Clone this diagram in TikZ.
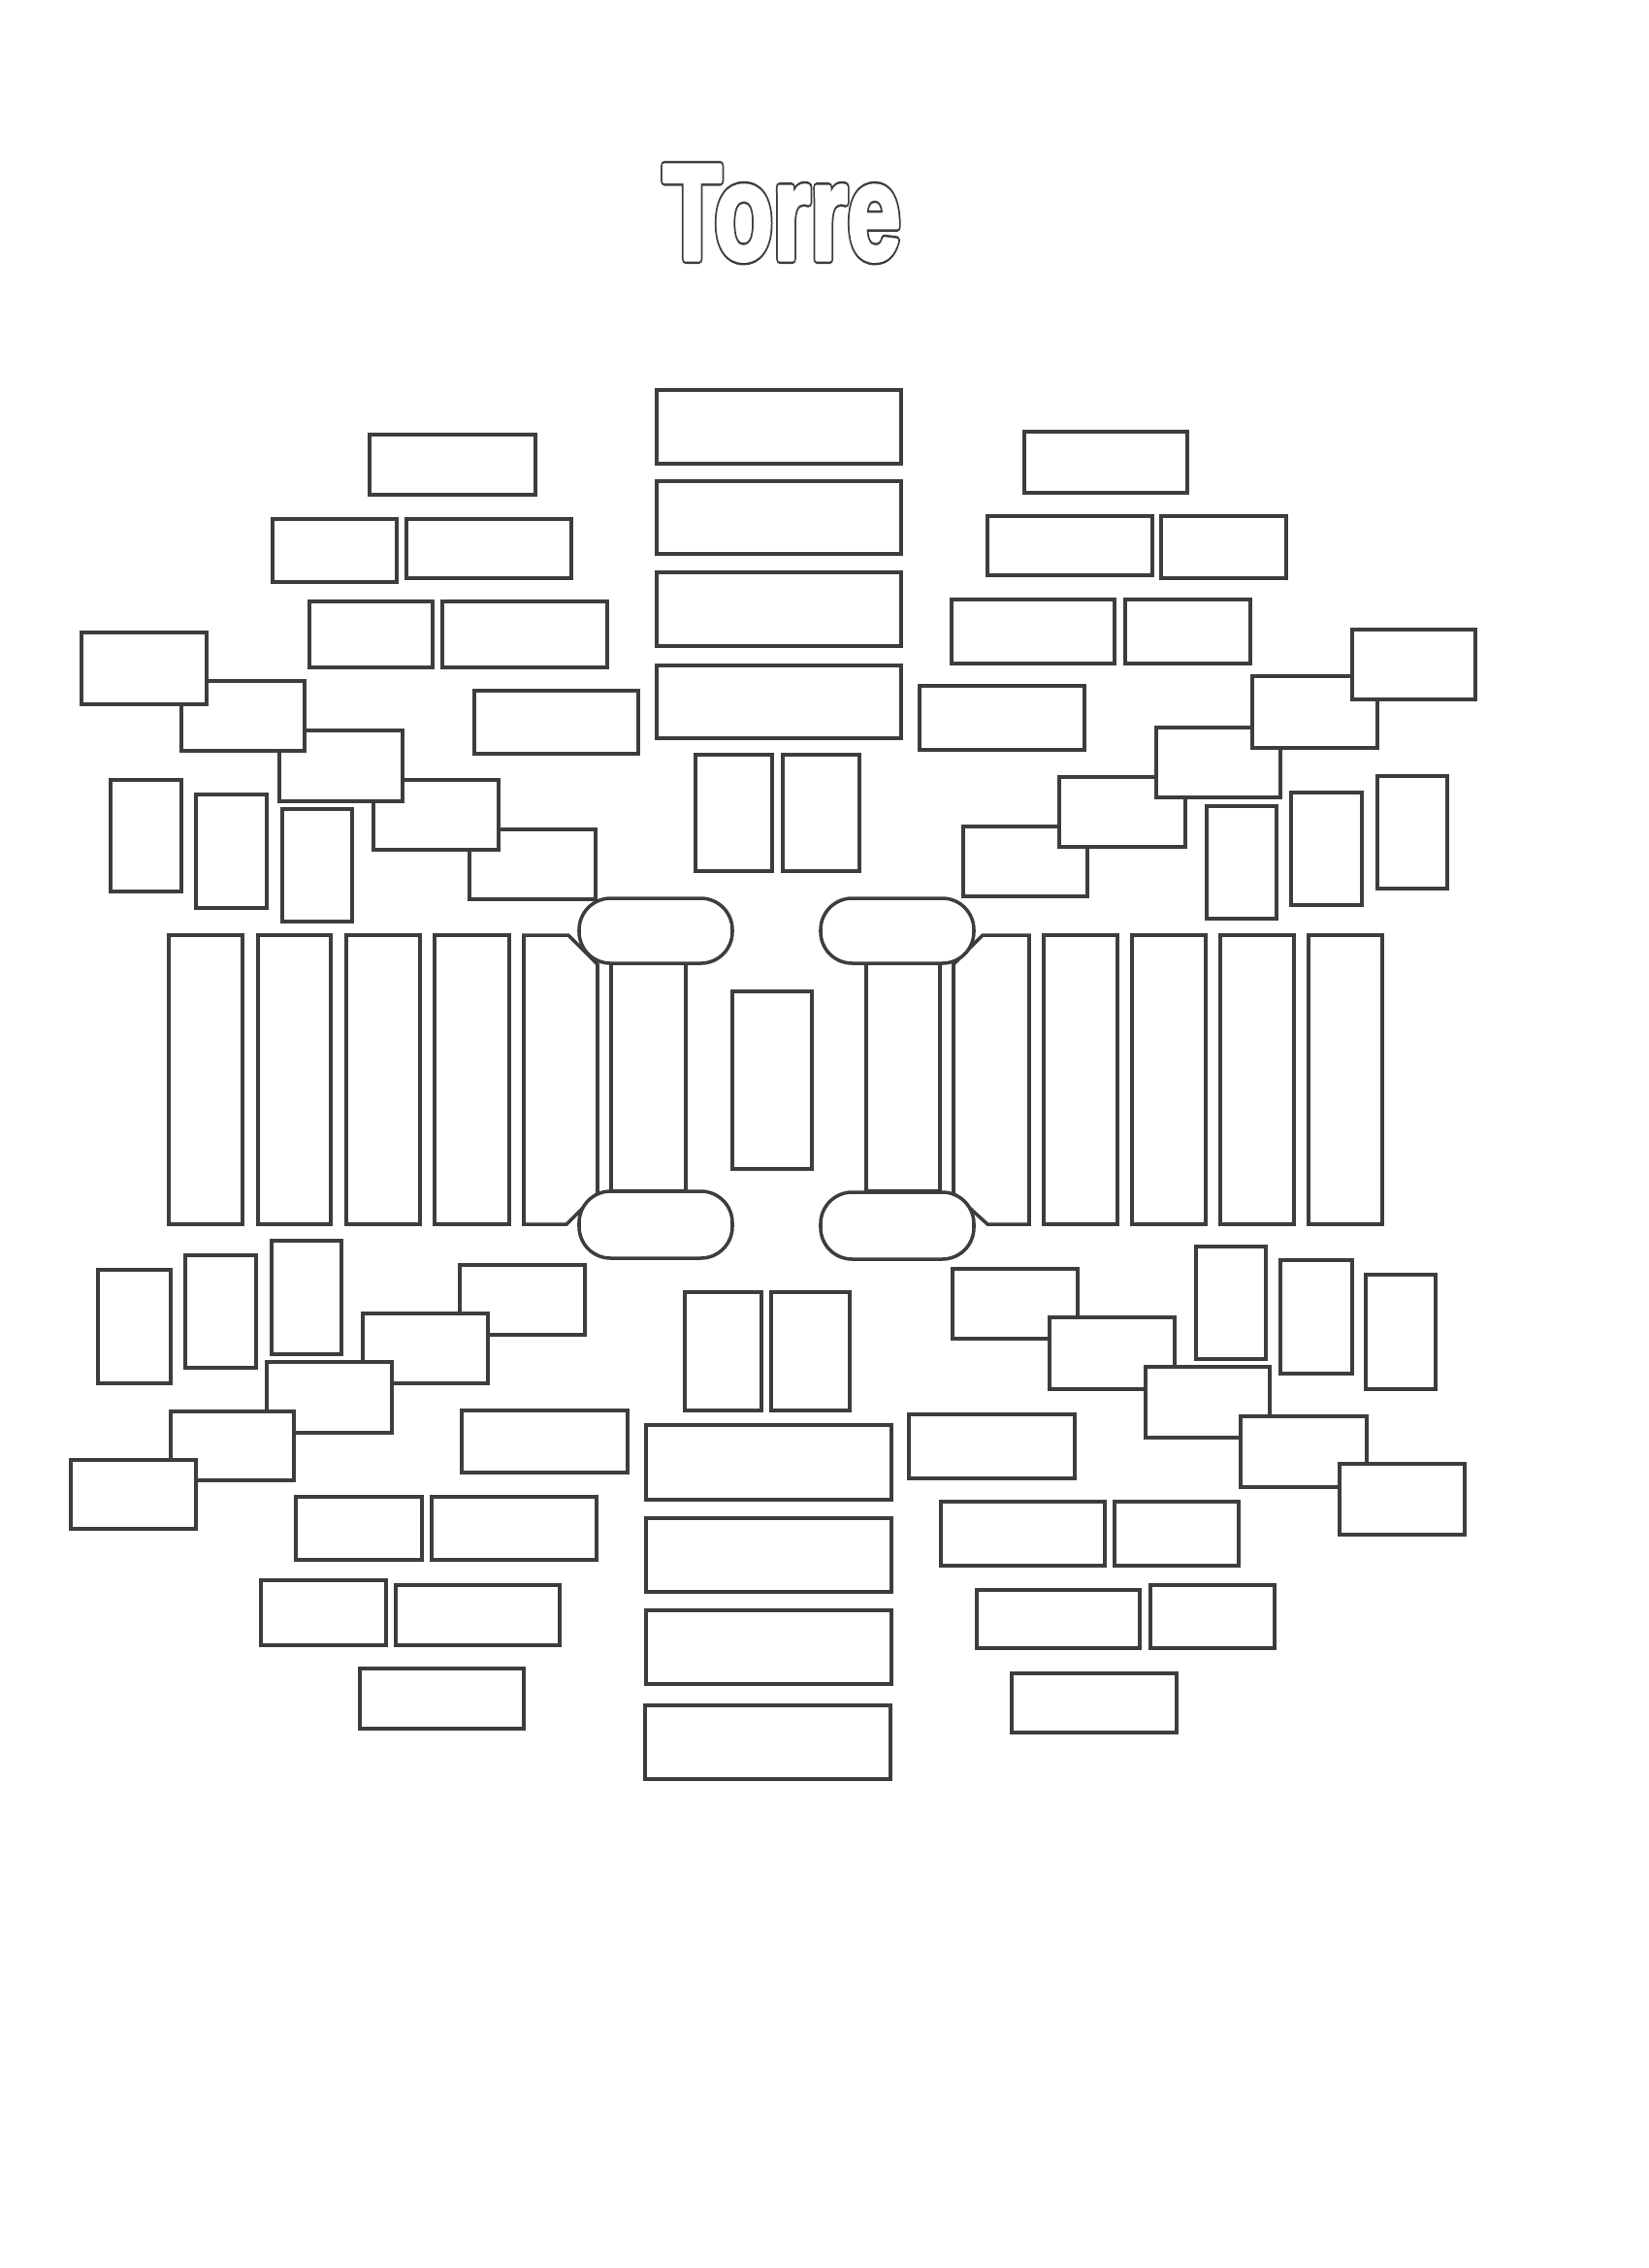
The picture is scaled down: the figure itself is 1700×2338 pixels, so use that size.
\documentclass[tikz,border=0pt]{standalone}
\usepackage{fontspec}
\usepackage{graphicx}
\newfontfamily\titlefont{Liberation Sans}
\tikzset{
  tile/.style={draw=black!76, line width=1pt, fill=white, rectangle, inner sep=0pt, outer sep=0pt},
  oval/.style={draw=black!76, line width=1pt, fill=white, rectangle, rounded corners=0.325cm, inner sep=0pt, outer sep=0pt},
  edge/.style={draw=black!76, line width=1pt, fill=white, line join=miter},
  titletext/.style={anchor=base, inner sep=0pt}
}
\newcommand\tile[6][tile]{\node[#1,minimum width={(#5-#3)*0.01cm},minimum height={(#6-#4)*0.01cm}] (#2) at ({(#3+#5)/2},{(#4+#6)/2}) {};}
\newcommand\titleword[1]{\scalebox{0.707}[1]{\titlefont\bfseries\fontsize{39.7pt}{40pt}\selectfont\special{pdf:literal direct 2 Tr #1 w 1 j}Torre\special{pdf:literal direct 0 Tr}}}
\begin{document}
\begin{tikzpicture}[x=0.01cm,y=-0.01cm]
\fill[white] (0,0) rectangle (1700,2338);
\useasboundingbox (0,0) rectangle (1700,2338);

% title: emboldened outline letters
\node[titletext, text=black!76] (title) at (806,267) {\titleword{2.85}};
\node[titletext, text=white] (titlein) at (806,267) {\titleword{1.45}};

% ---- top left
\tile{tl1}{381}{448}{552}{510}
\tile{tl2}{281}{535}{409}{600}
\tile{tl3}{419}{535}{589}{596}
\tile{tl4}{319}{620}{446}{688}
\tile{tl5}{456}{620}{626}{688}
\tile{tl6}{489}{712}{658}{777}
\tile{tlE}{484}{855}{614}{927}
\tile{tlD}{385}{804}{514}{876}
\tile{tlC}{288}{753}{415}{826}
\tile{tlB}{187}{702}{314}{774}
\tile{tlA}{84}{652}{213}{726}
\tile{tlv1}{114}{804}{187}{919}
\tile{tlv2}{202}{819}{275}{936}
\tile{tlv3}{291}{834}{363}{950}

% ---- top centre
\tile{tc1}{677}{402}{929}{478}
\tile{tc2}{677}{496}{929}{571}
\tile{tc3}{677}{590}{929}{666}
\tile{tc4}{677}{686}{929}{761}
\tile{tcv1}{717}{778}{796}{898}
\tile{tcv2}{807}{778}{886}{898}

% ---- top right
\tile{tr1}{1056}{445}{1224}{508}
\tile{tr2}{1018}{532}{1188}{593}
\tile{tr3}{1197}{532}{1326}{596}
\tile{tr4}{981}{618}{1149}{684}
\tile{tr5}{1160}{618}{1289}{684}
\tile{tr6}{948}{707}{1118}{773}
\tile{trE}{993}{852}{1121}{924}
\tile{trD}{1092}{801}{1222}{873}
\tile{trC}{1192}{750}{1320}{822}
\tile{trB}{1291}{697}{1420}{771}
\tile{trA}{1394}{649}{1521}{721}
\tile{trv1}{1244}{831}{1316}{947}
\tile{trv2}{1331}{817}{1404}{933}
\tile{trv3}{1420}{800}{1492}{916}

% ---- middle columns
\tile{ml1}{174}{964}{250}{1262}
\tile{ml2}{266}{964}{341}{1262}
\tile{ml3}{357}{964}{433}{1262}
\tile{ml4}{448}{964}{525}{1262}
\draw[edge] (540,964) -- (586,964) -- (616,994) -- (616,1230) -- (584,1262) -- (540,1262) -- cycle;
\draw[edge] (1061,964) -- (1013,964) -- (983,994) -- (983,1230) -- (1018,1262) -- (1061,1262) -- cycle;
\tile{mr2}{1076}{964}{1152}{1262}
\tile{mr3}{1167}{964}{1243}{1262}
\tile{mr4}{1258}{964}{1334}{1262}
\tile{mr5}{1349}{964}{1425}{1262}
\tile{mc}{755}{1022}{837}{1205}
\tile{inl}{630}{993}{707}{1228}
\tile{inr}{893}{993}{969}{1228}
\tile[oval]{ovlt}{597}{926}{755}{993}
\tile[oval]{ovlb}{597}{1228}{755}{1297}
\tile[oval]{ovrt}{846}{926}{1004}{993}
\tile[oval]{ovrb}{846}{1229}{1004}{1298}

% ---- bottom left
\tile{blv1}{101}{1309}{176}{1426}
\tile{blv2}{191}{1294}{264}{1410}
\tile{blv3}{280}{1279}{352}{1396}
\tile{bl1}{474}{1304}{603}{1376}
\tile{bl2}{374}{1354}{503}{1426}
\tile{bl3}{275}{1404}{404}{1477}
\tile{bl4}{176}{1455}{303}{1526}
\tile{bl5}{73}{1505}{202}{1576}
\tile{bla}{476}{1454}{647}{1518}
\tile{blb}{305}{1543}{435}{1608}
\tile{blc}{445}{1543}{615}{1608}
\tile{bld}{269}{1629}{398}{1696}
\tile{ble}{408}{1634}{577}{1696}
\tile{blf}{371}{1720}{540}{1782}

% ---- bottom centre
\tile{bcv1}{706}{1332}{785}{1454}
\tile{bcv2}{795}{1332}{876}{1454}
\tile{bc1}{666}{1469}{919}{1546}
\tile{bc2}{666}{1565}{919}{1641}
\tile{bc3}{666}{1660}{919}{1736}
\tile{bc4}{665}{1758}{918}{1834}

% ---- bottom right
\tile{brv1}{1233}{1285}{1305}{1401}
\tile{brv2}{1320}{1299}{1394}{1416}
\tile{brv3}{1408}{1314}{1480}{1432}
\tile{br1}{982}{1308}{1111}{1380}
\tile{br2}{1082}{1358}{1211}{1432}
\tile{br3}{1181}{1409}{1309}{1482}
\tile{br4}{1279}{1460}{1409}{1533}
\tile{br5}{1381}{1509}{1510}{1582}
\tile{bra}{937}{1458}{1108}{1524}
\tile{brb}{970}{1548}{1139}{1614}
\tile{brc}{1149}{1548}{1277}{1614}
\tile{brd}{1007}{1639}{1175}{1699}
\tile{bre}{1186}{1634}{1314}{1699}
\tile{brf}{1043}{1725}{1213}{1786}
\end{tikzpicture}
\end{document}
